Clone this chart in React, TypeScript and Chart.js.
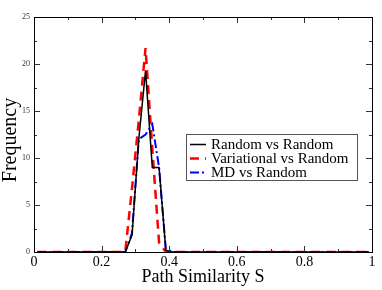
import React, { useEffect, useRef } from "react";
import { Chart, registerables } from "chart.js";

Chart.register(...registerables);

const xValues = [
  0.01, 0.03, 0.05, 0.07, 0.09, 0.11, 0.13, 0.15, 0.17, 0.19,
  0.21, 0.23, 0.25, 0.27, 0.29, 0.31, 0.33, 0.35, 0.37, 0.39,
  0.41, 0.43, 0.45, 0.47, 0.49, 0.51, 0.53, 0.55, 0.57, 0.59,
  0.61, 0.63, 0.65, 0.67, 0.69, 0.71, 0.73, 0.75, 0.77, 0.79,
  0.81, 0.83, 0.85, 0.87, 0.89, 0.91, 0.93, 0.95, 0.97, 0.99,
];

const randomVsRandom = [
  0, 0, 0, 0, 0, 0, 0, 0, 0, 0,
  0, 0, 0, 0, 1.8, 12, 19.3, 9, 9, 0.2,
  0, 0, 0, 0, 0, 0, 0, 0, 0, 0,
  0, 0, 0, 0, 0, 0, 0, 0, 0, 0,
  0, 0, 0, 0, 0, 0, 0, 0, 0, 0,
];

const variationalVsRandom = [
  0, 0, 0, 0, 0, 0, 0, 0, 0, 0,
  0, 0, 0, 0, 6.8, 14, 21.7, 11, 1, 0,
  0, 0, 0, 0, 0, 0, 0, 0, 0, 0,
  0, 0, 0, 0, 0, 0, 0, 0, 0, 0,
  0, 0, 0, 0, 0, 0, 0, 0, 0, 0,
];

const mdVsRandom = [
  0, 0, 0, 0, 0, 0, 0, 0, 0, 0,
  0, 0, 0, 0, 2, 12, 12.5, 13.6, 9, 0.3,
  0, 0, 0, 0, 0, 0, 0, 0, 0, 0,
  0, 0, 0, 0, 0, 0, 0, 0, 0, 0,
  0, 0, 0, 0, 0, 0, 0, 0, 0, 0,
];

const seriesLabels = ["Random vs Random", "Variational vs Random", "MD vs Random"];
const seriesColors = ["#000000", "#ff0000", "#0000ff"];
const seriesDashes: number[][] = [[], [9, 6], [9, 3, 2, 3]];
const seriesWidths = [1.5, 2.5, 2];
const seriesValues = [randomVsRandom, variationalVsRandom, mdVsRandom];

const xTitle = "Path Similarity S";
const yTitle = "Frequency";
const xTickStep = 0.2;
const xMinorStep = 0.1;
const yTickStep = 5;
const yMinorStep = 2.5;

const SERIF = "'Liberation Serif', 'DejaVu Serif', serif";

const ticksPlugin = {
  id: "innerTicks",
  afterDraw(chart: any) {
    const ctx = chart.ctx;
    const area = chart.chartArea;
    const left = area.left, right = area.right, top = area.top, bottom = area.bottom;
    const xs = chart.scales.x;
    const ys = chart.scales.y;
    ctx.save();
    ctx.setLineDash([]);
    ctx.strokeStyle = "#333333";
    ctx.lineWidth = 1;
    for (let i = 0; i <= 10; i++) {
      const len = i % 2 === 0 ? 6 : 3;
      const px = Math.round(xs.getPixelForValue(i * xMinorStep)) + 0.5;
      ctx.beginPath();
      ctx.moveTo(px, bottom);
      ctx.lineTo(px, bottom - len);
      ctx.moveTo(px, top);
      ctx.lineTo(px, top + len);
      ctx.stroke();
    }
    for (let i = 0; i <= 10; i++) {
      const len = i % 2 === 0 ? 6 : 3;
      const py = Math.round(ys.getPixelForValue(i * yMinorStep)) + 0.5;
      ctx.beginPath();
      ctx.moveTo(left, py);
      ctx.lineTo(left + len, py);
      ctx.moveTo(right, py);
      ctx.lineTo(right - len, py);
      ctx.stroke();
    }
    ctx.strokeStyle = "#000000";
    ctx.strokeRect(Math.round(left) + 0.5, Math.round(top) + 0.5, Math.round(right - left), Math.round(bottom - top));
    ctx.restore();
  },
};

const titlesLegendPlugin = {
  id: "titlesLegend",
  afterDraw(chart: any) {
    const ctx = chart.ctx;
    const area = chart.chartArea;
    ctx.save();
    ctx.setLineDash([]);
    ctx.fillStyle = "#000";
    ctx.textAlign = "center";
    ctx.textBaseline = "middle";
    ctx.font = `18px ${SERIF}`;
    ctx.fillText(xTitle, (area.left + area.right) / 2, 277);
    ctx.save();
    ctx.translate(11, 140);
    ctx.rotate(-Math.PI / 2);
    ctx.font = `20px ${SERIF}`;
    ctx.fillText(yTitle, 0, 0);
    ctx.restore();

    const bx = 186.5, by = 134.5, bw = 171, bh = 46;
    ctx.fillStyle = "#fff";
    ctx.fillRect(bx, by, bw, bh);
    ctx.strokeStyle = "#555";
    ctx.lineWidth = 1;
    ctx.strokeRect(bx, by, bw, bh);
    ctx.font = `15px ${SERIF}`;
    ctx.textBaseline = "middle";
    ctx.textAlign = "left";
    for (let i = 0; i < seriesLabels.length; i++) {
      const yy = 144.5 + i * 14;
      ctx.strokeStyle = seriesColors[i];
      ctx.lineWidth = seriesWidths[i];
      ctx.setLineDash(seriesDashes[i]);
      ctx.beginPath();
      ctx.moveTo(190, yy);
      ctx.lineTo(206, yy);
      ctx.stroke();
      ctx.setLineDash([]);
      ctx.fillStyle = "#000";
      ctx.fillText(seriesLabels[i], 211, yy + 0.5);
    }
    ctx.restore();
  },
};

export default function App() {
  const canvasRef = useRef<HTMLCanvasElement | null>(null);

  useEffect(() => {
    if (!canvasRef.current) return;
    const datasets = seriesValues.map((vals, i) => ({
      label: seriesLabels[i],
      data: xValues.map((x, j) => ({ x, y: vals[j] })),
      borderColor: seriesColors[i],
      backgroundColor: seriesColors[i],
      borderWidth: seriesWidths[i],
      borderDash: seriesDashes[i],
      pointRadius: 0,
      tension: 0,
      fill: false,
    }));
    const borderOpts = { display: true, color: "#000", width: 1 };
    const chart = new Chart(canvasRef.current, {
      type: "line",
      data: { datasets },
      options: {
        animation: false,
        responsive: false,
        devicePixelRatio: 1,
        layout: { padding: { top: 17, right: 10, left: 0, bottom: 0 } },
        plugins: { legend: { display: false }, tooltip: { enabled: false } },
        scales: {
          x: {
            type: "linear",
            position: "bottom",
            min: 0,
            max: 1,
            grid: { display: false, drawTicks: false },
            border: borderOpts,
            ticks: {
              stepSize: xTickStep,
              autoSkip: false,
              maxRotation: 0,
              padding: 2,
              color: "#000",
              font: { family: SERIF, size: 14 },
              callback: (v: any) => String(Number(Number(v).toFixed(1))),
            },
            afterFit: (scale: any) => {
              scale.height = 38;
            },
          },
          y: {
            type: "linear",
            position: "left",
            min: 0,
            max: 25,
            grid: { display: false, drawTicks: false },
            border: borderOpts,
            ticks: {
              stepSize: yTickStep,
              padding: 4,
              color: "#333",
              font: { family: SERIF, size: 8 },
            },
            afterFit: (scale: any) => {
              scale.width = 34;
            },
          },
        },
      },
      plugins: [ticksPlugin, titlesLegendPlugin],
    });
    return () => chart.destroy();
  }, []);

  return (
    <div style={{ position: "fixed", left: 0, top: 0, width: 382, height: 290, background: "#fff" }}>
      <canvas ref={canvasRef} width={382} height={290} style={{ position: "absolute", left: 0, top: 0 }} />
      <div
        style={{
          position: "absolute",
          left: 34,
          top: 17,
          width: 339,
          height: 236,
          boxSizing: "border-box",
          border: "1px solid #000",
          pointerEvents: "none",
        }}
      />
    </div>
  );
}
